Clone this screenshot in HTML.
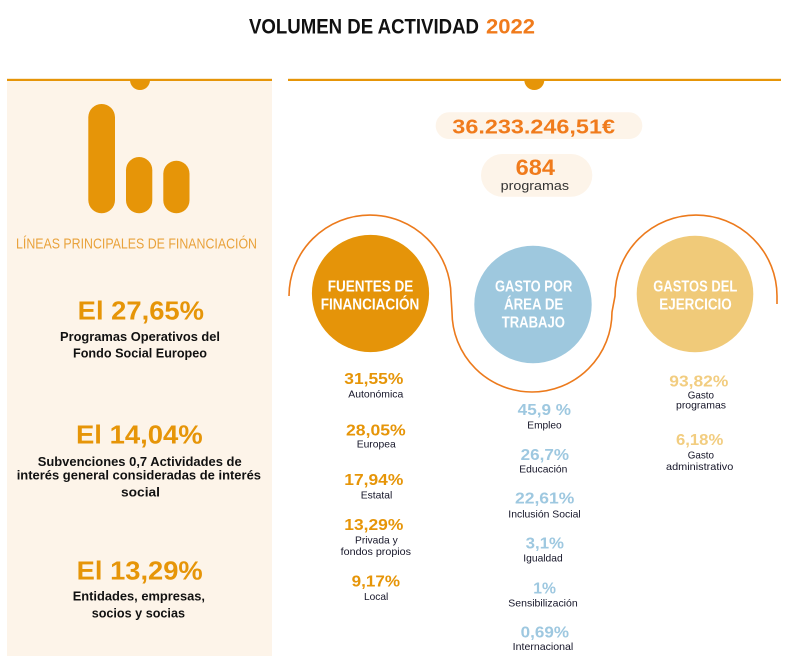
<!DOCTYPE html>
<html><head><meta charset="utf-8"><style>
html,body{margin:0;padding:0;background:#fff;}
svg{display:block;}
text{font-family:"Liberation Sans",sans-serif;}
</style></head><body>
<svg width="787" height="665" viewBox="0 0 787 665" xmlns="http://www.w3.org/2000/svg">
<!-- Title -->
<text x="249" y="33.3" font-size="21" font-weight="bold" fill="#111" textLength="230" lengthAdjust="spacingAndGlyphs">VOLUMEN DE ACTIVIDAD</text>
<text x="486" y="33.3" font-size="21" font-weight="bold" fill="#f07b1c" textLength="49" lengthAdjust="spacingAndGlyphs">2022</text>

<!-- Left panel -->
<rect x="7" y="80" width="265" height="576" fill="#fdf4e9"/>
<rect x="7" y="78.8" width="265" height="2.2" fill="#e69508"/>
<path d="M130,80 A10 10 0 0 0 150,80 Z" fill="#e69508"/>
<rect x="88.3" y="104" width="26.7" height="109.3" rx="13.3" fill="#e69508"/>
<rect x="126" y="157" width="26.3" height="56.3" rx="13.1" fill="#e69508"/>
<rect x="163.3" y="160.7" width="26.2" height="52.6" rx="13.1" fill="#e69508"/>
<text x="16" y="248.3" font-size="15" fill="#e9a23b" textLength="241" lengthAdjust="spacingAndGlyphs">LÍNEAS PRINCIPALES DE FINANCIACIÓN</text>

<text x="77.7" y="319.3" font-size="26" font-weight="bold" fill="#e69508" textLength="126.3" lengthAdjust="spacingAndGlyphs">El 27,65%</text>
<text x="60" y="341" font-size="13" font-weight="bold" fill="#111" textLength="160" lengthAdjust="spacingAndGlyphs">Programas Operativos del</text>
<text x="73" y="357.5" font-size="13" font-weight="bold" fill="#111" textLength="134" lengthAdjust="spacingAndGlyphs">Fondo Social Europeo</text>

<text x="76" y="443.3" font-size="26" font-weight="bold" fill="#e69508" textLength="126.7" lengthAdjust="spacingAndGlyphs">El 14,04%</text>
<text x="37.7" y="466" font-size="13" font-weight="bold" fill="#111" textLength="204" lengthAdjust="spacingAndGlyphs">Subvenciones 0,7 Actividades de</text>
<text x="16.7" y="479.5" font-size="13" font-weight="bold" fill="#111" textLength="244.3" lengthAdjust="spacingAndGlyphs">interés general consideradas de interés</text>
<text x="121" y="496.5" font-size="13" font-weight="bold" fill="#111" textLength="39" lengthAdjust="spacingAndGlyphs">social</text>

<text x="76.7" y="579.3" font-size="26" font-weight="bold" fill="#e69508" textLength="126" lengthAdjust="spacingAndGlyphs">El 13,29%</text>
<text x="72.7" y="600.7" font-size="13" font-weight="bold" fill="#111" textLength="132.3" lengthAdjust="spacingAndGlyphs">Entidades, empresas,</text>
<text x="91.7" y="617.3" font-size="13" font-weight="bold" fill="#111" textLength="93.3" lengthAdjust="spacingAndGlyphs">socios y socias</text>

<!-- Right panel -->
<rect x="288" y="78.8" width="493" height="2.2" fill="#e69508"/>
<path d="M524.3,80 A10 10 0 0 0 544.3,80 Z" fill="#e69508"/>

<rect x="435.7" y="112.3" width="206.6" height="26.7" rx="13.3" fill="#fdf4e9"/>
<text x="452.3" y="133.3" font-size="20" font-weight="bold" fill="#f07b1c" textLength="162.7" lengthAdjust="spacingAndGlyphs">36.233.246,51€</text>
<rect x="481" y="154" width="111.3" height="42.7" rx="21.3" fill="#fdf4e9"/>
<text x="515.7" y="175" font-size="22" font-weight="bold" fill="#f07b1c" textLength="39.3" lengthAdjust="spacingAndGlyphs">684</text>
<text x="500.7" y="190" font-size="12.5" fill="#333" textLength="68.3" lengthAdjust="spacingAndGlyphs">programas</text>

<path d="M289,296 A81 81 0 0 1 451,296 L452,312 A80 80 0 0 0 612,312 L615,296 A81 81 0 0 1 777,296 L777,304" fill="none" stroke="#ec7a1c" stroke-width="1.6"/>

<circle cx="370.5" cy="293.5" r="58.6" fill="#e59409"/>
<circle cx="533" cy="304.5" r="58.7" fill="#9ec8de"/>
<circle cx="695" cy="294" r="58.3" fill="#f0ca79"/>

<g fill="#fff" font-size="16" font-weight="bold">
<text x="327.7" y="291.7" textLength="85.6" lengthAdjust="spacingAndGlyphs">FUENTES DE</text>
<text x="320.7" y="309.3" textLength="98.6" lengthAdjust="spacingAndGlyphs">FINANCIACIÓN</text>
<text x="495" y="291.7" textLength="77.3" lengthAdjust="spacingAndGlyphs">GASTO POR</text>
<text x="504" y="309.3" textLength="59.3" lengthAdjust="spacingAndGlyphs">ÁREA DE</text>
<text x="501.7" y="327.3" textLength="63.3" lengthAdjust="spacingAndGlyphs">TRABAJO</text>
<text x="653.3" y="291.7" textLength="84" lengthAdjust="spacingAndGlyphs">GASTOS DEL</text>
<text x="659.3" y="309.3" textLength="72.4" lengthAdjust="spacingAndGlyphs">EJERCICIO</text>
</g>

<!-- Fuentes list -->
<g font-size="16" font-weight="bold" fill="#e69508">
<text x="344.3" y="384" textLength="59" lengthAdjust="spacingAndGlyphs">31,55%</text>
<text x="346" y="435.3" textLength="59.7" lengthAdjust="spacingAndGlyphs">28,05%</text>
<text x="344.3" y="485" textLength="59" lengthAdjust="spacingAndGlyphs">17,94%</text>
<text x="344.3" y="530" textLength="59" lengthAdjust="spacingAndGlyphs">13,29%</text>
<text x="351.7" y="586.7" textLength="48.3" lengthAdjust="spacingAndGlyphs">9,17%</text>
</g>
<g font-size="10.5" fill="#151528">
<text x="348.3" y="397.3" textLength="55" lengthAdjust="spacingAndGlyphs">Autonómica</text>
<text x="356.7" y="447.3" textLength="39" lengthAdjust="spacingAndGlyphs">Europea</text>
<text x="360.7" y="498.3" textLength="31.6" lengthAdjust="spacingAndGlyphs">Estatal</text>
<text x="355" y="543.3" textLength="42.7" lengthAdjust="spacingAndGlyphs">Privada y</text>
<text x="340.7" y="555" textLength="70.3" lengthAdjust="spacingAndGlyphs">fondos propios</text>
<text x="364" y="600" textLength="24.3" lengthAdjust="spacingAndGlyphs">Local</text>
</g>

<!-- Gasto list -->
<g font-size="16" font-weight="bold" fill="#9ec8e0">
<text x="517.7" y="415" textLength="53.3" lengthAdjust="spacingAndGlyphs">45,9 %</text>
<text x="520.7" y="460" textLength="48.3" lengthAdjust="spacingAndGlyphs">26,7%</text>
<text x="515" y="503.3" textLength="59.3" lengthAdjust="spacingAndGlyphs">22,61%</text>
<text x="525.7" y="548.3" textLength="38.3" lengthAdjust="spacingAndGlyphs">3,1%</text>
<text x="533.3" y="593.3" textLength="22.7" lengthAdjust="spacingAndGlyphs">1%</text>
<text x="520.7" y="637.7" textLength="48.3" lengthAdjust="spacingAndGlyphs">0,69%</text>
</g>
<g font-size="10.5" fill="#151528">
<text x="527.3" y="428.3" textLength="34.4" lengthAdjust="spacingAndGlyphs">Empleo</text>
<text x="519.3" y="472.7" textLength="48" lengthAdjust="spacingAndGlyphs">Educación</text>
<text x="508.3" y="517.7" textLength="72.4" lengthAdjust="spacingAndGlyphs">Inclusión Social</text>
<text x="523.3" y="561.7" textLength="39.4" lengthAdjust="spacingAndGlyphs">Igualdad</text>
<text x="508.3" y="606.7" textLength="69.4" lengthAdjust="spacingAndGlyphs">Sensibilización</text>
<text x="512.7" y="650" textLength="60.6" lengthAdjust="spacingAndGlyphs">Internacional</text>
</g>

<!-- Gastos list -->
<g font-size="16" font-weight="bold" fill="#f2cd80">
<text x="669.3" y="386.7" textLength="59" lengthAdjust="spacingAndGlyphs">93,82%</text>
<text x="676" y="445" textLength="47.3" lengthAdjust="spacingAndGlyphs">6,18%</text>
</g>
<g font-size="10.5" fill="#151528">
<text x="687.7" y="398.3" textLength="26.3" lengthAdjust="spacingAndGlyphs">Gasto</text>
<text x="676" y="408.5" textLength="50" lengthAdjust="spacingAndGlyphs">programas</text>
<text x="687.7" y="458.3" textLength="26.3" lengthAdjust="spacingAndGlyphs">Gasto</text>
<text x="666" y="470" textLength="67.3" lengthAdjust="spacingAndGlyphs">administrativo</text>
</g>
</svg>
</body></html>
